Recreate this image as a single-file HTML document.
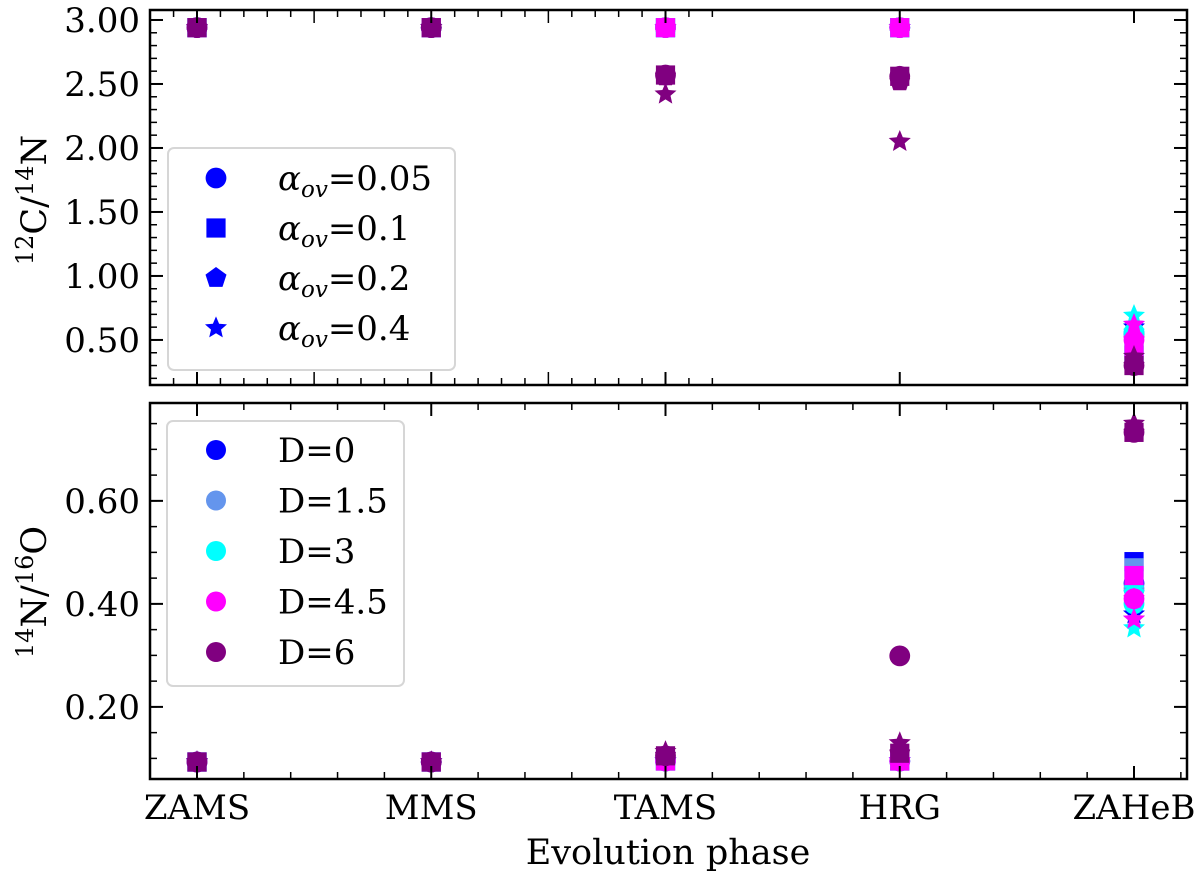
<!DOCTYPE html>
<html><head><meta charset="utf-8"><style>
body{margin:0;background:#fff}
svg text{font-family:"DejaVu Serif","Liberation Serif",serif;fill:#000}
</style></head><body>
<svg id="chart" width="1200" height="880" viewBox="0 0 1200 880"></svg>
<script>
const phases=["ZAMS","MMS","TAMS","HRG","ZAHeB"];
const dLabels=["D=0","D=1.5","D=3","D=4.5","D=6"];
const dColors=["#0000ff","#6495ed","#00ffff","#ff00ff","#800080"];
const alphaLabels=["0.05","0.1","0.2","0.4"];
const markers=["circle","square","pentagon","star"];
// C/N values [alpha][phase] per D
const cnD0=[[2.94,2.94,2.94,2.94,0.55],[2.94,2.94,2.94,2.94,0.38],[2.94,2.94,2.94,2.94,0.5],[2.94,2.94,2.94,2.94,0.6]];
const cnD15=[[2.94,2.94,2.94,2.94,0.55],[2.94,2.94,2.94,2.94,0.4],[2.94,2.94,2.94,2.94,0.52],[2.94,2.94,2.94,2.94,0.62]];
const cnD3=[[2.94,2.94,2.94,2.94,0.56],[2.94,2.94,2.94,2.94,0.45],[2.94,2.94,2.94,2.94,0.56],[2.94,2.94,2.94,2.94,0.69]];
const cnD45=[[2.94,2.94,2.94,2.94,0.5],[2.94,2.94,2.94,2.94,0.42],[2.94,2.94,2.94,2.94,0.5],[2.94,2.94,2.94,2.94,0.62]];
const cnD6=[[2.94,2.94,2.57,2.56,0.3],[2.94,2.94,2.57,2.56,0.3],[2.94,2.94,2.56,2.52,0.3],[2.94,2.94,2.42,2.05,0.37]];
// N/O values
const noD0=[[0.093,0.093,0.095,0.095,0.44],[0.093,0.093,0.095,0.095,0.482],[0.093,0.093,0.095,0.095,0.42],[0.093,0.093,0.095,0.095,0.38]];
const noD15=[[0.093,0.093,0.095,0.095,0.43],[0.093,0.093,0.095,0.095,0.47],[0.093,0.093,0.095,0.095,0.42],[0.093,0.093,0.095,0.095,0.37]];
const noD3=[[0.093,0.093,0.095,0.095,0.4],[0.093,0.093,0.095,0.095,0.45],[0.093,0.093,0.095,0.095,0.42],[0.093,0.093,0.095,0.095,0.353]];
const noD45=[[0.093,0.093,0.095,0.095,0.41],[0.093,0.093,0.095,0.095,0.455],[0.093,0.093,0.095,0.095,0.41],[0.093,0.093,0.095,0.095,0.37]];
const noD6=[[0.093,0.093,0.105,0.299,0.733],[0.093,0.093,0.105,0.11,0.733],[0.093,0.093,0.105,0.11,0.733],[0.093,0.093,0.113,0.13,0.75]];
const cnTicks=[0.5,1.0,1.5,2.0,2.5,3.0];
const noTicks=[0.2,0.4,0.6];

const NS="http://www.w3.org/2000/svg";
const svg=document.getElementById('chart');
function el(t,a,p){const e=document.createElementNS(NS,t);for(const k in a)e.setAttribute(k,a[k]);(p||svg).appendChild(e);return e;}
const X0=150,X1=1187;
const xs=c=>197+c*234.25;
const pTop={y0:10,y1:385,v0:3.078,v1:0.148};
const pBot={y0:403,y1:779,v0:0.790,v1:0.060};
const ys=(p,v)=>p.y0+(p.v0-v)/(p.v0-p.v1)*(p.y1-p.y0);
const FS=34;

function marker(g,type,x,y,color,s){
  let e;
  if(type==="circle")e=el('circle',{cx:x,cy:y,r:s*0.52,fill:color},g);
  else if(type==="square")e=el('rect',{x:x-s*0.48,y:y-s*0.48,width:s*0.96,height:s*0.96,fill:color},g);
  else{
    const pts=[];const R=type==="star"?s*0.58:s*0.55,r=type==="star"?R*0.45:R;
    const k=type==="star"?10:5;
    for(let i=0;i<k;i++){const a=-Math.PI/2+i*2*Math.PI/k;const rr=(type==="star"&&i%2)?r:R;pts.push((x+rr*Math.cos(a)).toFixed(1)+","+(y+rr*Math.sin(a)).toFixed(1));}
    e=el('polygon',{points:pts.join(" "),fill:color},g);
  }
  return e;
}

function panel(p,name,sets,ticks,minorStep,xMinorStep){
  const g=el('g',{});
  
  
  for(let d=0;d<5;d++)for(let a=0;a<4;a++)for(let c=0;c<5;c++){
    const m=marker(g,markers[a],xs(c),ys(p,sets[d][a][c]),dColors[d],20);
    
    
  }
  const vmin=Math.min(p.v0,p.v1),vmax=Math.max(p.v0,p.v1);
  for(let i=Math.ceil(vmin/minorStep-1e-6);i*minorStep<=vmax;i++){
    const y=ys(p,i*minorStep);
    el('line',{x1:X0,x2:X0+7,y1:y,y2:y,stroke:'#000','stroke-width':1.5},g);
    el('line',{x1:X1,x2:X1-7,y1:y,y2:y,stroke:'#000','stroke-width':1.5},g);
  }
  ticks.forEach(v=>{const y=ys(p,v);
    el('line',{x1:X0,x2:X0+13,y1:y,y2:y,stroke:'#000','stroke-width':2},g);
    el('line',{x1:X1,x2:X1-13,y1:y,y2:y,stroke:'#000','stroke-width':2},g);
    const t=el('text',{x:X0-10,y:y+12,'text-anchor':'end','font-size':FS},g);t.textContent=v.toFixed(2);
    
  });
  for(let i=-1;i<=22;i++){const c=i*xMinorStep;const x=xs(c);
    if(x<X0+1||x>X1-1)continue;
    const maj=xMinorStep<0.15&&Math.abs(c*2-Math.round(c*2))<1e-6;
    const L=maj?13:7;
    el('line',{x1:x,x2:x,y1:p.y0,y2:p.y0+L,stroke:'#000','stroke-width':1.5},g);
    el('line',{x1:x,x2:x,y1:p.y1,y2:p.y1-L,stroke:'#000','stroke-width':1.5},g);}
  for(let c=0;c<5;c++){const x=xs(c);
    el('line',{x1:x,x2:x,y1:p.y0,y2:p.y0+13,stroke:'#000','stroke-width':2},g);
    el('line',{x1:x,x2:x,y1:p.y1,y2:p.y1-13,stroke:'#000','stroke-width':2},g);}
  el('rect',{x:X0,y:p.y0,width:X1-X0,height:p.y1-p.y0,fill:'none',stroke:'#000','stroke-width':2.5},g);
  return g;
}
panel(pTop,'cn',[cnD0,cnD15,cnD3,cnD45,cnD6],cnTicks,0.1,0.1);
panel(pBot,'no',[noD0,noD15,noD3,noD45,noD6],noTicks,0.05,0.2);

phases.forEach((ph,c)=>{const t=el('text',{x:xs(c),y:819,'text-anchor':'middle','font-size':FS});t.textContent=ph;
  });
const xl=el('text',{x:668,y:864,'text-anchor':'middle','font-size':35});xl.textContent='Evolution phase';

const yl1=el('text',{x:0,y:0,'text-anchor':'middle','font-size':35,transform:'translate(46,200) rotate(-90)'});
yl1.innerHTML='<tspan font-size="24" dy="-13">12</tspan><tspan dy="13">C/</tspan><tspan font-size="24" dy="-13">14</tspan><tspan dy="13">N</tspan>';

const yl2=el('text',{x:0,y:0,'text-anchor':'middle','font-size':35,transform:'translate(46,592) rotate(-90)'});
yl2.innerHTML='<tspan font-size="24" dy="-13">14</tspan><tspan dy="13">N/</tspan><tspan font-size="24" dy="-13">16</tspan><tspan dy="13">O</tspan>';


const lg1=el('g',{});
el('rect',{x:168,y:148,width:287,height:222,rx:6,fill:'#fff','fill-opacity':0.8,stroke:'#d6d6d6','stroke-width':2},lg1);
alphaLabels.forEach((a,i)=>{const y=178+i*50;
  const m=marker(lg1,markers[i],216,y,'#0000ff',20);
  
  const t=el('text',{x:278,y:y+12,'font-size':FS},lg1);
  t.innerHTML='<tspan font-style="italic">α</tspan><tspan font-style="italic" font-size="23" dy="7">ov</tspan><tspan dy="-7">='+a+'</tspan>';
  });
const lg2=el('g',{});
el('rect',{x:167,y:421,width:237,height:265,rx:6,fill:'#fff','fill-opacity':0.8,stroke:'#d6d6d6','stroke-width':2},lg2);
dLabels.forEach((d,i)=>{const y=450+i*50.5;
  const m=el('circle',{cx:216,cy:y,r:10,fill:dColors[i]},lg2);
  
  const t=el('text',{x:278,y:y+12,'font-size':FS},lg2);t.textContent=d;
  });
</script>
</body></html>
